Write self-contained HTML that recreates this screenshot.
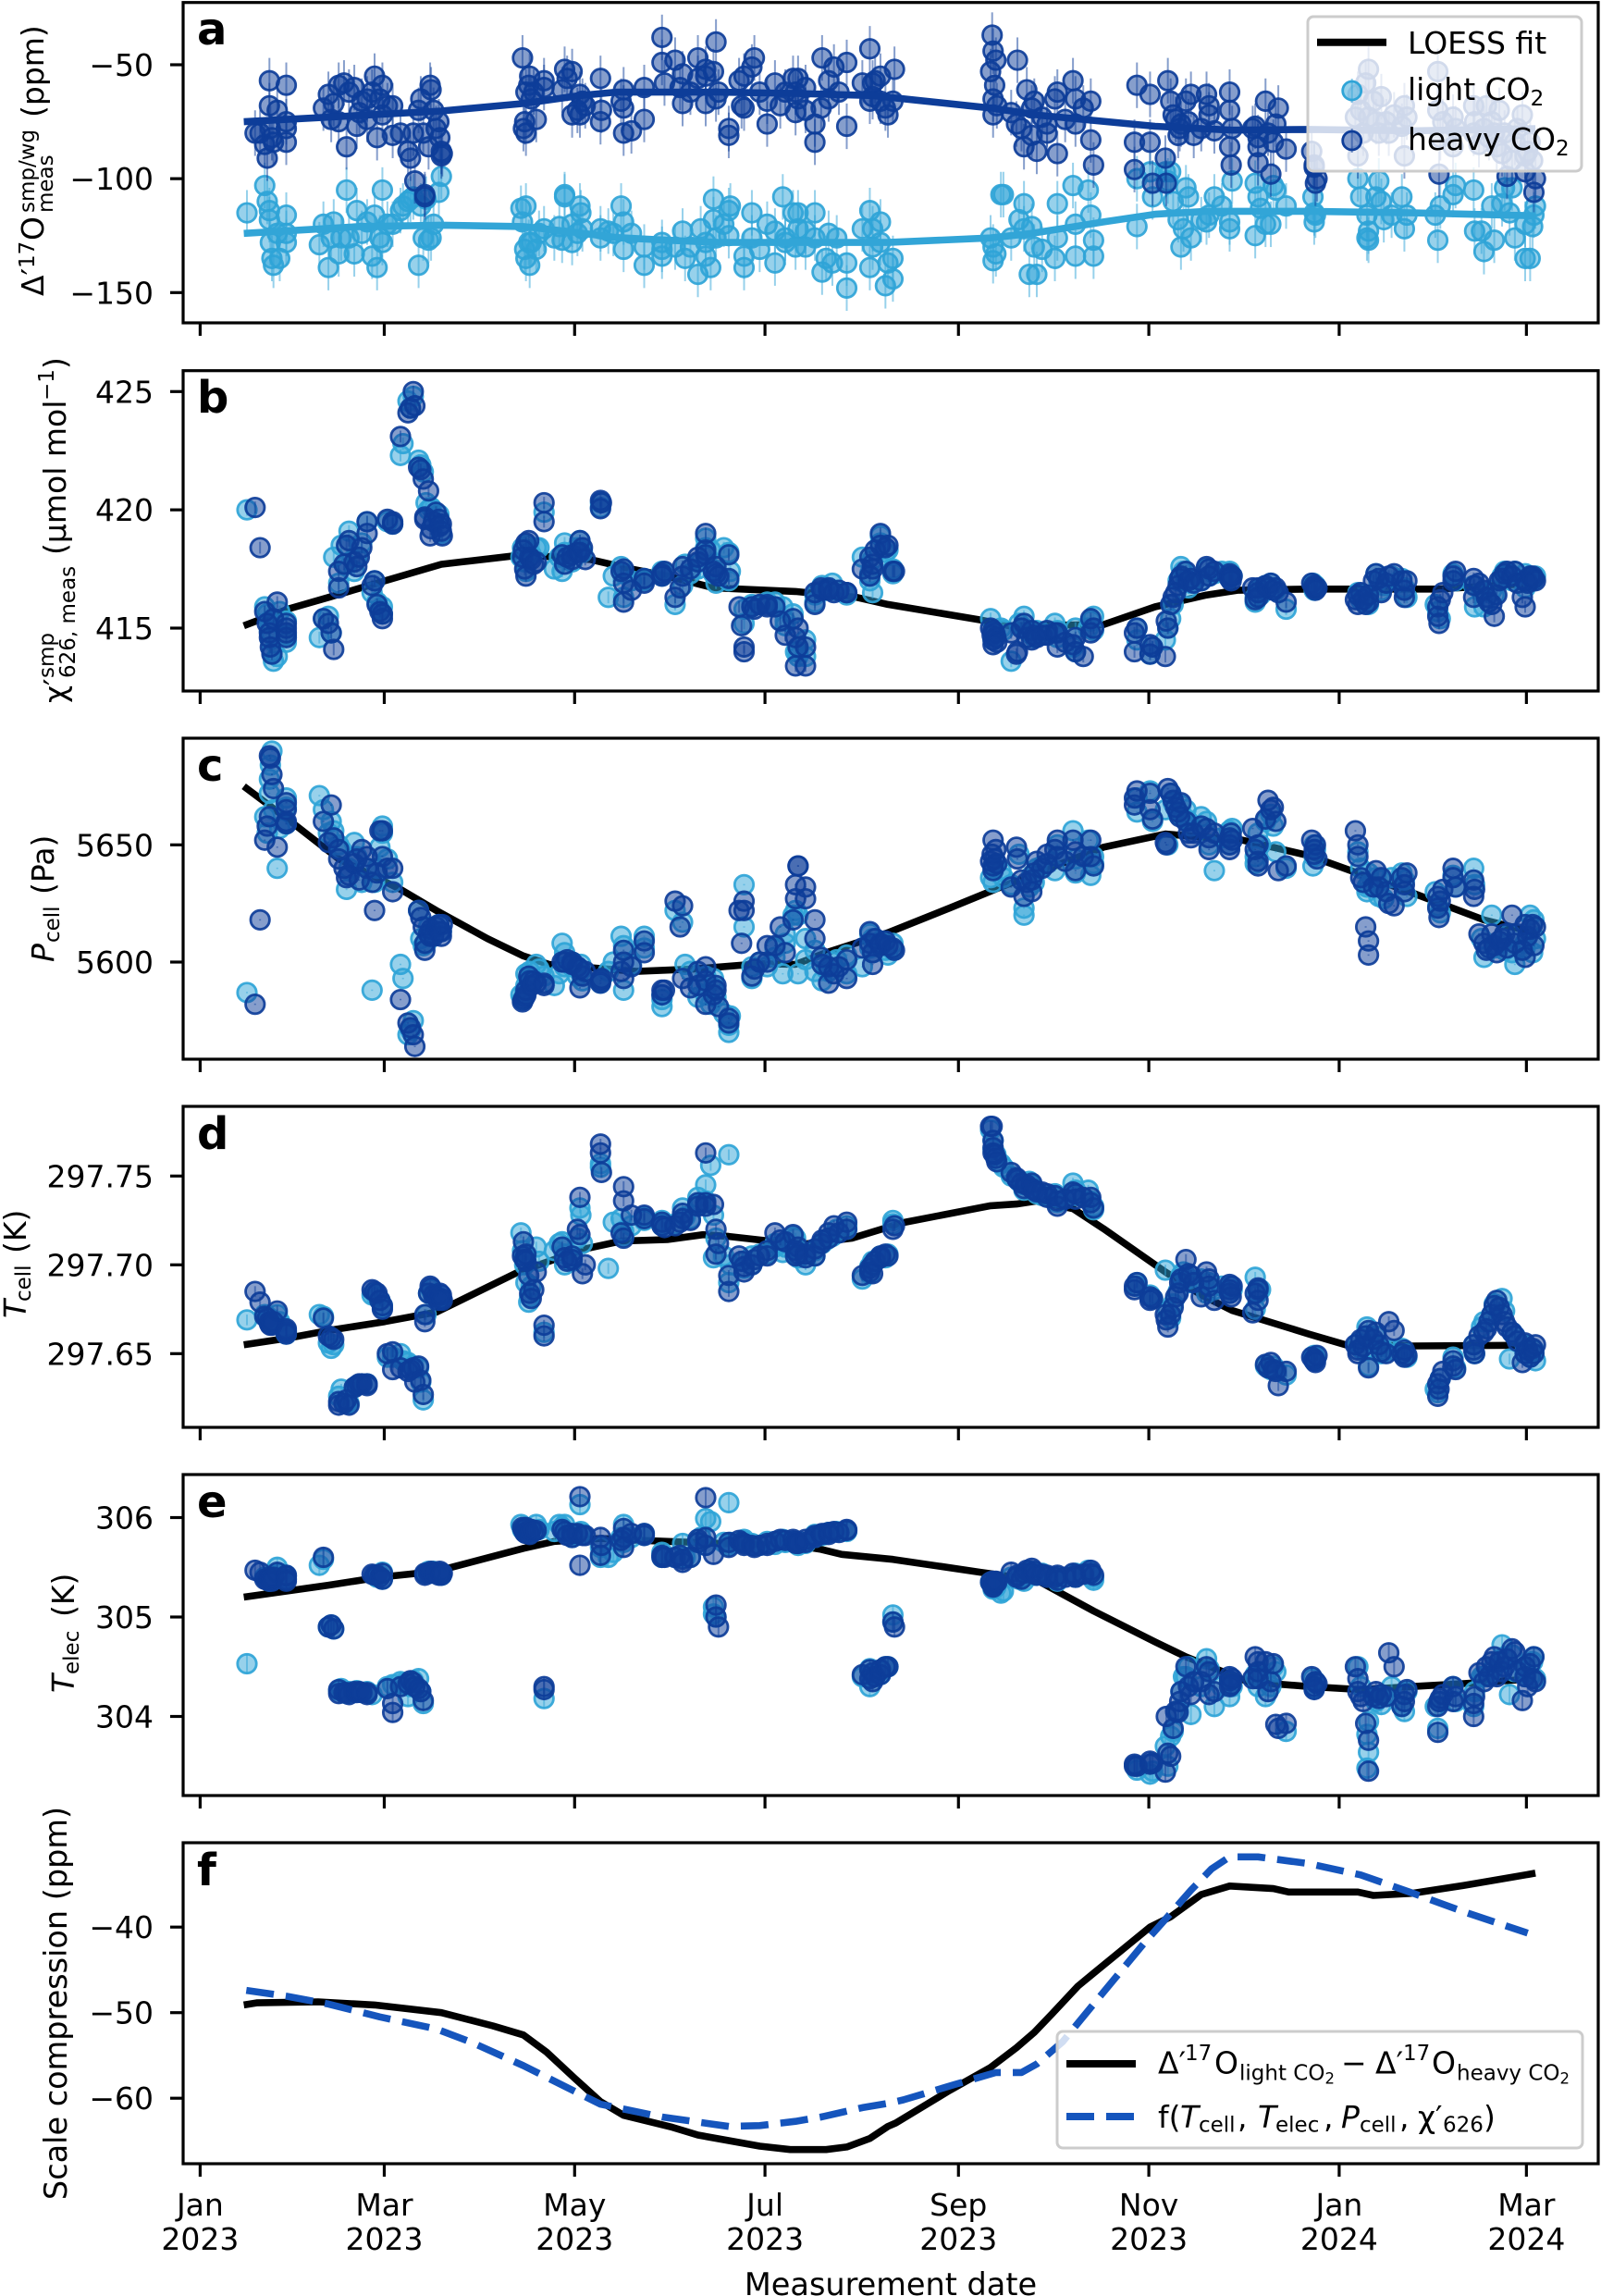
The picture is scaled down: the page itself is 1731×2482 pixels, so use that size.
<!DOCTYPE html>
<html lang="en">
<head>
<meta charset="utf-8">
<title>Measurement time series</title>
<style>
html,body{margin:0;padding:0;background:#fff;}
svg{display:block;}
text{font-family:"DejaVu Sans","Liberation Sans",sans-serif;fill:#000;font-size:33px;}
.s{font-size:23px;}
.t{font-size:16.5px;}
.i{font-style:italic;}
.p{font-size:48px;font-weight:bold;}
.title{font-size:33.5px;}
</style>
</head>
<body>
<svg id="chart" xmlns="http://www.w3.org/2000/svg" width="1731" height="2482" viewBox="0 0 1731 2482">
<rect x="0" y="0" width="1731" height="2482" fill="#fff"/>
<g id="plots"></g>

<g transform="translate(47,320) rotate(-90)">
<text x="0" y="0">Δ′</text><text class="s" x="30" y="-10">17</text><text x="60" y="0">O</text><text class="s" x="90" y="-10">smp/wg</text><text class="s" x="90" y="10">meas</text><text x="193" y="0">(ppm)</text>
</g>
<g transform="translate(71,760) rotate(-90)">
<text x="0" y="0">χ′</text><text class="s" x="27" y="-13">smp</text><text class="s" x="27" y="10">626, meas</text><text x="160" y="0">(μmol mol</text><text class="s" x="327" y="-13">−1</text><text x="361" y="0">)</text>
</g>
<g transform="translate(58,1040) rotate(-90)">
<text class="i" x="0" y="0">P</text><text class="s" x="21" y="6">cell</text><text x="73" y="0">(Pa)</text>
</g>
<g transform="translate(28,1425) rotate(-90)">
<text class="i" x="0" y="0">T</text><text class="s" x="18" y="5">cell</text><text x="70" y="0">(K)</text>
</g>
<g transform="translate(80,1830) rotate(-90)">
<text class="i" x="0" y="0">T</text><text class="s" x="20" y="5">elec</text><text x="82" y="0">(K)</text>
</g>
<text class="title" transform="translate(72,2165.5) rotate(-90)" text-anchor="middle">Scale compression (ppm)</text>
<text class="title" x="963" y="2481" text-anchor="middle">Measurement date</text>

<text class="p" x="213" y="48">a</text>
<text class="p" x="213" y="446">b</text>
<text class="p" x="213" y="844">c</text>
<text class="p" x="213" y="1242">d</text>
<text class="p" x="213" y="1640">e</text>
<text class="p" x="213" y="2038">f</text>

<g>
<rect x="1414" y="18" width="296" height="167" rx="6" fill="#fff" fill-opacity="0.8" stroke="#ccc" stroke-width="3"/>
<line x1="1424" y1="45.7" x2="1499" y2="45.7" stroke="#000" stroke-width="8"/>
<text x="1522" y="58">LOESS fit</text>
<line x1="1461.7" y1="85" x2="1461.7" y2="111" stroke="#2fa4d7" stroke-opacity="0.5" stroke-width="2"/>
<circle cx="1461.7" cy="98" r="10" fill="#2fa4d7" fill-opacity="0.5" stroke="#2fa4d7" stroke-width="2.8"/>
<text x="1522" y="108">light CO<tspan class="s" dy="6">2</tspan></text>
<line x1="1461.7" y1="139" x2="1461.7" y2="165" stroke="#0d3d99" stroke-opacity="0.5" stroke-width="2"/>
<circle cx="1461.7" cy="152" r="10" fill="#0d3d99" fill-opacity="0.5" stroke="#0d3d99" stroke-width="2.8"/>
<text x="1522" y="162">heavy CO<tspan class="s" dy="6">2</tspan></text>
</g>

<g>
<rect x="1143" y="2196" width="568" height="126" rx="6" fill="#fff" fill-opacity="0.8" stroke="#ccc" stroke-width="3"/>
<line x1="1153" y1="2231" x2="1228" y2="2231" stroke="#000" stroke-width="8"/>
<g>
<text x="1252" y="2241.7">Δ′</text><text class="s" x="1281" y="2227">17</text><text x="1313" y="2241.7">O</text><text class="s" x="1340" y="2248.3">light CO<tspan class="t" dy="4">2</tspan></text><text x="1450" y="2241.7">−</text><text x="1487" y="2241.7">Δ′</text><text class="s" x="1517" y="2227">17</text><text x="1548" y="2241.7">O</text><text class="s" x="1575" y="2248.3">heavy CO<tspan class="t" dy="4">2</tspan></text>
</g>
<line x1="1153" y1="2288" x2="1228" y2="2288" stroke="#1555bd" stroke-width="8" stroke-dasharray="30 13"/>
<g>
<text x="1252" y="2300">f(</text><text class="i" x="1276" y="2300">T</text><text class="s" x="1296" y="2304.3">cell</text><text x="1338" y="2300">,</text><text class="i" x="1360" y="2300">T</text><text class="s" x="1379" y="2304.3">elec</text><text x="1431" y="2300">,</text><text class="i" x="1450" y="2300">P</text><text class="s" x="1470" y="2304.3">cell</text><text x="1513" y="2300">,</text><text x="1533" y="2300">χ′</text><text class="s" x="1560" y="2304.3">626</text><text x="1604" y="2300">)</text>
</g>
</g>
</svg>

<script>
// ---------- axes data ----------
const xTickDays = [0,59,120,181,243,304,365,425];
const xTickMonths = ['Jan','Mar','May','Jul','Sep','Nov','Jan','Mar'];
const xTickYears = ['2023','2023','2023','2023','2023','2023','2024','2024'];
const aTicks = [-50,-100,-150];
const bTicks = [415,420,425];
const cTicks = [5600,5650];
const dTicks = [297.65,297.70,297.75];
const eTicks = [304,305,306];
const fTicks = [-40,-50,-60];

// ---------- measurement days since 1 Jan 2023 ----------
const heavyDays = [
17.6,19.2,20.7,21.5,22.2,22.2,22.5,23,23.5,24.7,27.6,27.6,27.6,27.6,
39.5,41.1,42,42.8,44.4,44.4,46.1,46.9,47.7,49.4,50.2,51,51.8,53.5,53.5,55.1,55.9,56.7,57.6,58.4,58.4,60,61.7,61.7,
64.2,66.6,67.4,68.3,68.8,70,70.7,71.5,72,72,73.2,73.7,74,74.8,75.6,76.5,76.8,77.3,77.3,77.6,
103.3,103.6,104,104.4,104.4,105.3,105.6,106.1,106.9,107.7,110.2,110.2,116,116.8,117.6,119.2,119.2,120.9,121.7,121.7,122.5,123.4,
128.3,128.3,128.6,134.9,135.7,135.7,135.7,138.2,142.3,142.3,148,148,148.8,
152.2,153.8,154.6,154.6,157.1,159.5,159.5,162,162,162,164.5,165.3,165.3,166.1,169.4,169.4,
172.7,173.5,174.3,174.3,176.8,177.6,179.3,181.7,181.7,184.2,185.9,187.5,190,190.8,190.8,191.6,
191.6,194,194,197,197,199,199.3,201.4,201.4,203.1,204.7,207.2,207.2,
212.2,214.6,214.6,215.5,215.5,216.3,218,218,219.6,220.4,222,222.5,
253.3,253.8,254.1,254.1,254.1,254.6,255,255.3,259.9,261.6,261.9,263.2,264,264.9,266.5,266.5,267.3,268.1,269.8,271.4,271.4,273.9,274.7,274.7,277.2,279.7,280.5,280.5,283,285.4,285.4,286.3,
299.4,299.4,300.2,304.4,304.4,305.2,309.3,309.6,310.1,311,311.8,312.6,313.4,313.9,314.3,315.9,316.7,317.5,318.4,320.8,322.5,323.3,323.3,325,329.9,329.9,329.9,330.4,330.7,337.3,338.1,339,339,339,341.4,342.2,343.1,343.9,344.7,345.5,348,
356.2,357,357,357.4,357.9,
370.2,371,371,371.9,372.7,373.5,374.4,374.4,376,376.8,377.7,378.5,380.1,380.9,382.6,385.1,385.9,385.9,386.7,
396.6,396.6,397,397.4,398.2,401.5,401.5,402.3,408.1,408.1,408.4,
409.8,411.4,412.2,413,413.9,414.7,415.5,416.3,417.2,418,418.8,420.4,421.3,422.1,423.7,424.6,424.6,425.4,426.2,427,427.4,427.9
];
const lightDays = [
15,20.7,21.5,22.2,22.2,22.5,23,23.5,24.7,25.5,27.6,27.6,27.6,
38.2,39.5,41.1,42,42.8,44.4,45.2,46.9,47.7,49.4,50.2,51.8,53.5,55.1,55.9,56.7,57.6,58.4,58.4,60,61.7,
64.2,65,66.6,67.4,68.3,70,70.7,71.5,72.4,73.2,74,74.8,76.5,77.3,
102.8,103.3,104,104.4,104.4,105.3,105.6,106.1,107.7,108.6,110.2,113.5,115.1,116,116.8,116.8,119.2,119.2,120.9,121.7,122,122.5,
128.3,128.3,130.8,132.4,134.9,135.7,135.7,138.2,142.3,142.3,148,148,148,
152.2,154.6,155.4,157.1,159.5,160.4,162,162,163.6,164.5,164.5,165.3,167.8,169.4,169.4,169.9,
174.3,174.3,176.8,176.8,179.3,181.7,184.2,184.2,186.7,187.5,187.5,190,190.8,191.6,
191.6,194,194,197,197,199.3,200.6,201.4,202.6,204,207.2,207.2,
212.2,214.6,214.6,215.5,215.5,218,218,219.6,220.4,222,222,
253.3,254.1,254.1,255,256.6,257.4,259.9,262.4,264,264,265.7,266.5,267.3,268.1,269.8,273.9,274.7,274.7,279.7,280.5,280.5,284.6,285.4,286.3,286.3,
300.2,300.2,304.4,305.2,309.3,310.1,311,311.8,313.4,314.3,315.1,315.9,316.7,317.5,320.8,322.5,323.3,325,327.4,329.9,330.7,329.9,338.1,338.1,339,339.8,341.4,343.1,343.9,344.7,348,
356.6,357,357,357.4,
371,371.9,373.9,374.4,374.4,373.9,376.8,377.7,378.5,379.3,381.8,385.1,385.9,386.7,
395.8,396.6,397.4,401.5,402.3,408.1,408.4,
410.6,411.4,413.9,414.7,417.2,418,419.6,420.4,421.3,424.6,424.6,426.2,427,427.4,427.9
];

// ---------- panel a ----------
const aHeavy = [
-80,-80,-85,-91,-57,-68,-78,-82,-84,-70,-59,-75,-84,-78,
-69,-63,-74,-67,-59,-75,-58,-86,-62,-60,-77,-71,-66,-65,-74,-62,-55,-82,-65,-59,-72,-68,-68,-81,
-80,-88,-91,-80,-101,-70,-65,-80,-107,-108,-86,-59,-61,-70,-78,-75,-82,-90,-88,-89,
-47,-78,-75,-62,-80,-59,-55,-65,-62,-74,-57,-60,-61,-52,-56,-53,-72,-70,-63,-72,-66,-68,
-56,-75,-70,-66,-61,-69,-80,-79,-60,-74,-38,-49,-58,
-48,-60,-54,-67,-62,-47,-56,-55,-52,-67,-53,-40,-65,-62,-78,-81,
-57,-68,-55,-69,-51,-47,-62,-76,-66,-58,-68,-62,-56,-71,-62,-65,
-56,-70,-60,-76,-84,-69,-47,-57,-65,-51,-62,-49,-77,
-58,-43,-66,-58,-64,-57,-66,-55,-69,-72,-66,-52,
-53,-37,-44,-65,-72,-59,-48,-68,-71,-76,-48,-78,-86,-61,-69,-81,-66,-88,-73,-76,-80,-65,-62,-89,-74,-57,-65,-76,-69,-66,-83,-94,
-84,-96,-59,-63,-84,-102,-91,-102,-57,-66,-72,-74,-81,-78,-76,-66,-75,-63,-81,-78,-63,-68,-72,-79,-62,-70,-86,-94,-78,-78,-77,-82,-86,-93,-66,-80,-98,-84,-76,-69,-87,
-88,-94,-95,-102,-100,
-73,-90,-63,-70,-80,-58,-52,-73,-66,-75,-80,-64,-75,-80,-72,-77,-68,-90,-73,
-53,-70,-98,-82,-75,-73,-86,-78,-68,-80,-75,
-85,-78,-68,-82,-75,-80,-86,-70,-89,-80,-99,-92,-84,-78,-72,-97,-90,-88,-84,-92,-106,-100
];
const aLight = [
-115,-103,-110,-114,-118,-128,-135,-138,-124,-135,-124,-128,-116,
-129,-120,-139,-126,-119,-133,-126,-105,-126,-133,-114,-124,-119,-134,-116,-139,-126,-105,-128,-120,-120,
-114,-112,-110,-109,-108,-138,-112,-126,-109,-127,-126,-120,-106,-99,
-113,-119,-131,-112,-135,-128,-138,-128,-131,-124,-122,-126,-121,-127,-107,-108,-128,-120,-124,-112,-115,-122,
-126,-122,-123,-124,-112,-119,-131,-124,-130,-138,-131,-134,-128,
-130,-123,-135,-130,-142,-122,-134,-128,-139,-118,-109,-126,-120,-114,-125,-112,
-134,-139,-115,-126,-131,-120,-137,-123,-108,-126,-128,-115,-130,-122,
-115,-123,-130,-115,-126,-141,-135,-124,-137,-126,-137,-148,
-122,-114,-139,-122,-130,-119,-128,-147,-137,-135,-144,
-126,-130,-136,-133,-107,-107,-126,-118,-111,-122,-142,-121,-130,-142,-131,-135,-111,-126,-103,-134,-120,-105,-116,-127,-134,
-100,-121,-97,-108,-97,-101,-97,-110,-118,-130,-122,-104,-108,-126,-118,-119,-116,-108,-112,-119,-101,-122,-102,-125,-108,-113,-120,-120,-103,-105,-112,
-108,-115,-119,-116,
-100,-108,-126,-127,-123,-116,-108,-101,-110,-118,-116,-108,-122,-116,
-116,-127,-112,-107,-103,-105,-123,
-123,-132,-112,-127,-111,-104,-115,-104,-126,-135,-120,-135,-121,-116,-112
];
const aHeavyLineDays = [14,77.3,103.6,121.7,133.2,166.1,190.75,215.5,253.3,269.8,306,330.7,355.4,388.3,427.9];
const aHeavyLineVals = [-75,-70.3,-67,-63.5,-62,-62,-62.6,-63.5,-69,-72.3,-77,-78.7,-78.4,-79,-78];
const aLightLineDays = [14,51,77.3,103.6,116.8,133.2,149.7,166.1,220.4,253.3,266.5,289.5,306,322.5,355.4,388.3,427.9];
const aLightLineVals = [-124,-121,-120.4,-121,-123,-125.8,-127,-128,-128,-126,-124,-119,-115.6,-114.3,-114.3,-115,-116.3];

// ---------- panel b ----------
const bHeavy = [
420.1,418.4,415.7,415.2,414.8,414.6,414.2,413.9,415.4,416.1,415.2,415,414.8,414.6,
415.4,415.2,414.8,414.1,416.7,417.4,417.7,418.5,418.7,417.8,417.6,418,418.4,419,419.5,416.8,417,416,415.7,415.4,415.6,419.6,419.4,419.5,
423.1,424.1,424.3,425,424.4,421.8,421.7,421.3,419.7,419.6,420.8,418.9,419.2,419.5,419.9,419.6,419.3,419.4,419.1,418.9,
418,418.3,417.5,417.2,418.6,418.7,418,417.9,417.7,417.8,420.3,419.5,418.1,417.7,418,418.1,417.9,418.2,418.7,418.2,418.4,417.9,
420.4,420.05,420.3,417.4,417.5,416.9,416.1,416.6,417.1,416.9,417.3,417.2,417.4,
416.3,416.7,417.6,417.2,417.5,417.8,418,419,418.3,418.1,417.4,417.3,417.6,417.2,418.1,417.1,
415.9,415.1,414.2,414,415.9,415.8,416,416,415.9,415.9,415.3,414.7,415.4,414.6,413.4,414.2,
415,414.2,413.4,416,416.5,416.7,416.6,416.7,416.6,416.5,416.6,416.5,416.5,
417.5,417.2,418,417.7,417.5,418.3,419,418.5,418.4,418.5,417.4,417.4,
415,414.7,414.9,414.5,414.3,414.8,414.6,414.4,414.8,413.9,414,415,415.2,414.6,414.9,414.5,414.7,414.6,414.7,414.9,414.7,414.8,414.2,414.8,414.4,414.3,414.6,414,413.8,415.4,414.8,415,
414.8,414,415,413.9,414.3,414.2,413.8,415.3,415,416,416.3,416.5,416.8,417.1,417.2,417.4,417,417.1,416.9,417,417.6,417.5,417.2,417.4,417.3,417.2,417.1,417,417.2,416.7,416.2,416.7,416.5,416.3,416.8,416.7,416.9,416.6,416.7,416.5,416.1,
416.9,416.7,416.8,416.6,416.7,
416.2,416.4,416,416.5,416.2,416,416.1,416.4,417,417.3,417.1,416.5,416.9,417.2,417.3,417,416.6,416.3,417,
415.9,415.5,415.2,416.2,416.5,417.2,417,417.4,417.1,416.3,416.8,
416.9,416.6,416.3,416.1,416,415.5,416.4,417,417.1,417.3,417.4,417.2,417.4,416.9,416.3,415.9,417,416.9,417.2,417.2,417.1,417
];
const bLight = [
420,415.9,415.6,415.3,414.9,414.5,414,413.6,413.8,415.7,415.3,414.7,414.4,
414.6,415.4,415.5,414.8,418,416.9,418.5,417.7,419.1,417.4,418,418.6,419.5,416.5,417,416.1,415.8,415.6,415.9,419.5,419.4,
422.3,422.8,424.6,424.3,424.8,422.1,421.9,421.6,420.3,420,420.1,419.5,419.8,419,
418,418.4,417.8,418.5,417.4,418,418.2,418.1,418.4,418.4,419.9,417.5,418,417.4,418.6,418.2,418.1,417.8,418.4,418.7,418.3,418.2,
420.3,420.1,416.3,417.2,417.6,417.3,416.3,417,417.1,417,417.4,417.3,417.2,
416,416.8,417.7,417.3,417.5,417.8,418.4,418.8,418.3,417.5,417.3,416.9,418.4,418.2,417,417.4,
415.8,415.2,415.9,416,416,416.1,415.9,416.1,415.9,415.3,415.1,415.6,414,413.8,
414,413.8,414.5,416.1,416.4,416.8,416.6,416.7,416.9,416.6,416.4,416.5,
418,417.3,417,417.9,416.5,418.6,418.9,418.2,418.3,417.3,417.5,
415.4,414.8,414.5,414.7,415,414.9,413.6,415.2,415.5,415,414.8,414.9,414.6,414.9,414.8,415.2,414.6,414.9,414.2,415,414,415,415.3,415.5,414.9,
415,414.5,413.9,414.2,414.5,415,415.4,416,417,417.6,417.4,417,416.7,416.9,417,417.5,417.2,417.3,417.4,417.4,417.2,417.1,416.3,416.1,416.6,416.4,416.8,416.9,416.7,416.6,415.8,
416.9,416.6,416.7,416.8,
416.5,416.2,416.3,416,416.2,416.4,417.3,417,416.6,416.8,417.2,417.1,416.7,416.3,
416,415.7,415.4,417.3,417,416.8,415.9,
416.5,415.9,416.6,416.4,417.2,417.4,417.3,417,417.4,416.7,417.3,417.2,417,417.1,417.2
];
const bLineDays = [14,28,41.1,59.2,77.3,83.9,103.6,125,138.2,149.7,164.5,190.75,210.5,220.4,250,259.1,289.5,306,322.5,332.4,355.4,396.6,427.9];
const bLineVals = [415.1,415.8,416.3,417,417.7,417.8,418.1,417.9,417.5,417.2,416.7,416.55,416.3,416,415.35,415.1,415.15,415.9,416.4,416.6,416.65,416.65,416.9];

// ---------- panel c ----------
const cHeavy = [
5582,5618,5652,5658,5662,5688,5687,5680,5674,5649,5668,5665,5660,5659,
5660,5651,5667,5653,5644,5648,5640,5636,5637,5642,5644,5635,5648,5645,5640,5634,5622,5638,5656,5656,5645,5640,5640,5630,
5584,5574,5572,5569,5564,5622,5619,5615,5605,5608,5612,5611,5614,5611,5615,5616,5613,5611,5613,5616,
5583,5584,5585,5586,5588,5594,5592,5590,5592,5591,5591,5590,5600,5600,5601,5599,5600,5598,5597,5589,5594,5596,
5592,5591,5593,5596,5600,5605,5593,5598,5609,5604,5588,5586,5588,
5626,5615,5624,5593,5589,5590,5596,5592,5582,5598,5586,5590,5588,5581,5576,5574,
5622,5608,5626,5622,5594,5597,5600,5600,5607,5607,5615,5604,5618,5627,5633,5641,
5641,5632,5627,5618,5610,5602,5599,5591,5598,5595,5598,5601,5593,
5606,5608,5613,5604,5599,5610,5608,5607,5609,5607,5606,5605,
5643,5646,5652,5639,5641,5644,5648,5642,5632,5649,5644,5635,5628,5634,5635,5630,5638,5643,5640,5642,5646,5648,5652,5645,5643,5652,5639,5647,5645,5652,5645,5641,
5667,5670,5673,5672,5665,5661,5651,5650,5674,5672,5669,5666,5664,5662,5668,5660,5655,5653,5655,5658,5657,5648,5653,5655,5653,5650,5648,5655,5652,5657,5648,5643,5650,5641,5661,5669,5665,5666,5660,5639,5641,
5652,5648,5646,5650,5644,
5656,5650,5645,5636,5634,5615,5609,5603,5632,5639,5632,5636,5630,5625,5624,5636,5633,5630,5638,
5628,5623,5619,5626,5631,5640,5636,5632,5635,5628,5631,
5612,5608,5605,5606,5612,5607,5604,5609,5610,5612,5606,5620,5608,5612,5605,5616,5602,5611,5614,5616,5607,5615
];
const cLight = [
5587,5662,5655,5672,5678,5684,5690,5665,5640,5657,5670,5666,5659,
5671,5665,5655,5660,5656,5650,5648,5631,5640,5651,5645,5634,5640,5588,5634,5640,5649,5658,5655,5644,5634,
5599,5593,5569,5571,5575,5622,5610,5607,5608,5615,5611,5612,5616,5613,
5586,5584,5587,5590,5595,5593,5596,5592,5599,5597,5594,5590,5595,5608,5604,5598,5598,5600,5594,5596,5599,5592,
5591,5592,5596,5600,5611,5607,5588,5599,5611,5606,5581,5584,5586,
5622,5617,5599,5596,5585,5590,5594,5586,5582,5593,5589,5585,5578,5570,5573,5577,
5633,5615,5598,5593,5600,5598,5602,5606,5595,5608,5612,5620,5622,5595,
5620,5610,5601,5605,5596,5592,5597,5596,5600,5601,5595,5603,
5598,5606,5612,5604,5610,5607,5609,5605,5603,5605,5608,
5636,5640,5634,5642,5639,5636,5633,5646,5620,5623,5632,5637,5634,5640,5641,5639,5650,5645,5656,5644,5638,5652,5637,5645,5642,
5664,5670,5673,5660,5665,5650,5672,5668,5663,5667,5662,5665,5660,5658,5662,5660,5650,5639,5653,5656,5657,5650,5645,5642,5655,5650,5660,5663,5658,5647,5640,
5641,5645,5650,5648,
5647,5640,5632,5638,5633,5630,5636,5628,5635,5627,5636,5638,5635,5628,
5630,5624,5621,5637,5632,5640,5633,
5610,5602,5620,5606,5608,5605,5612,5604,5599,5608,5606,5620,5604,5618,5610
];
const cLineDays = [14,28,44.4,64.2,75.7,92.1,103.6,111.8,139.8,157.9,179.3,190.75,200.6,220.4,240.1,256.6,289.5,309.3,334,355.4,371.9,388.3,411.4,427.9];
const cLineVals = [5675,5661,5644,5631,5622,5610,5602.6,5599,5596,5597,5599.3,5599,5604,5612.5,5623,5632,5649,5654.6,5652,5645.4,5637.5,5629.6,5618,5612.5];

// ---------- panel d ----------
const dHeavy = [
297.685,297.679,297.671,297.670,297.668,297.667,297.666,297.666,297.668,297.674,297.664,297.662,297.661,297.663,
297.670,297.660,297.659,297.658,297.623,297.621,297.622,297.624,297.621,297.631,297.632,297.633,297.633,297.633,297.632,297.686,297.685,297.684,297.680,297.675,297.677,297.650,297.651,297.641,
297.642,297.640,297.641,297.642,297.634,297.643,297.635,297.627,297.672,297.668,297.684,297.688,297.687,297.683,297.682,297.680,297.684,297.681,297.683,297.680,
297.705,297.713,297.703,297.702,297.706,297.694,297.684,297.681,297.686,297.696,297.666,297.660,297.710,297.704,297.702,297.705,297.703,297.720,297.738,297.717,297.695,297.700,
297.768,297.763,297.752,297.718,297.744,297.736,297.715,297.728,297.728,297.726,297.724,297.722,297.721,
297.722,297.724,297.729,297.726,297.725,297.733,297.735,297.763,297.735,297.733,297.734,297.720,297.706,297.712,297.685,297.694,
297.705,297.702,297.699,297.696,297.700,297.703,297.705,297.708,297.705,297.718,297.714,297.713,297.717,297.705,297.708,297.710,
297.706,297.704,297.706,297.705,297.709,297.712,297.714,297.715,297.718,297.722,297.718,297.724,297.720,
297.694,297.696,297.698,297.700,297.695,297.702,297.704,297.705,297.706,297.705,297.720,297.722,
297.778,297.778,297.770,297.766,297.763,297.762,297.760,297.758,297.752,297.749,297.748,297.746,297.743,297.745,297.746,297.743,297.742,297.741,297.741,297.740,297.738,297.739,297.736,297.733,297.737,297.741,297.740,297.737,297.738,297.738,297.735,297.732,
297.688,297.686,297.690,297.682,297.680,297.681,297.672,297.669,297.665,297.672,297.676,297.682,297.684,297.690,297.692,297.703,297.695,297.694,297.690,297.682,297.696,297.692,297.688,297.680,297.689,297.686,297.684,297.682,297.688,297.673,297.684,297.686,297.687,297.680,297.644,297.642,297.645,297.641,297.640,297.632,297.640,
297.648,297.646,297.647,297.645,297.649,
297.655,297.652,297.650,297.658,297.654,297.660,297.663,297.642,297.658,297.662,297.655,297.651,297.650,297.668,297.663,297.650,297.648,297.652,297.649,
297.626,297.633,297.630,297.636,297.640,297.646,297.643,297.641,297.652,297.655,297.650,
297.660,297.662,297.664,297.668,297.672,297.677,297.680,297.676,297.672,297.668,297.665,297.662,297.660,297.657,297.645,297.656,297.650,297.652,297.648,297.653,297.650,297.655
];
const dLight = [
297.669,297.672,297.671,297.670,297.669,297.668,297.667,297.667,297.672,297.668,297.663,297.661,297.662,
297.672,297.671,297.656,297.653,297.655,297.626,297.630,297.622,297.622,297.631,297.632,297.633,297.633,297.683,297.684,297.682,297.680,297.676,297.677,297.648,297.648,
297.650,297.646,297.645,297.641,297.643,297.642,297.634,297.624,297.672,297.684,297.686,297.684,297.682,297.681,
297.718,297.708,297.700,297.690,297.705,297.679,297.682,297.688,297.710,297.702,297.662,297.708,297.712,297.713,297.700,297.706,297.705,297.702,297.715,297.732,297.728,297.712,
297.757,297.755,297.698,297.724,297.726,297.719,297.716,297.722,297.727,297.725,297.725,297.723,297.722,
297.723,297.732,297.727,297.726,297.738,297.735,297.745,297.736,297.756,297.728,297.704,297.715,297.705,297.762,297.690,297.700,
297.702,297.698,297.700,297.705,297.706,297.706,297.710,297.712,297.707,297.712,297.710,297.716,297.715,297.704,
297.708,297.700,297.706,297.705,297.708,297.712,297.714,297.715,297.716,297.720,297.720,297.722,
297.692,297.695,297.699,297.700,297.702,297.704,297.705,297.704,297.706,297.723,297.725,
297.776,297.770,297.765,297.762,297.757,297.755,297.750,297.747,297.745,297.742,297.747,297.745,297.742,297.740,297.739,297.740,297.735,297.738,297.746,297.742,297.739,297.742,297.736,297.733,297.731,
297.690,297.688,297.683,297.681,297.697,297.674,297.670,297.678,297.685,297.694,297.696,297.694,297.692,297.690,297.692,297.684,297.690,297.686,297.688,297.688,297.686,297.684,297.693,297.675,297.684,297.686,297.643,297.641,297.643,297.641,297.638,
297.648,297.646,297.649,297.647,
297.656,297.653,297.652,297.660,297.643,297.665,297.660,297.654,297.650,297.652,297.652,297.653,297.650,297.648,
297.630,297.628,297.636,297.648,297.642,297.655,297.650,
297.665,297.668,297.672,297.678,297.681,297.674,297.647,297.662,297.660,297.650,297.655,297.648,297.650,297.652,297.646
];
const dLineDays = [14,28,41.1,59.2,75.7,83.9,102,113.5,123.4,134.9,149.7,161.2,169.4,182.6,193.2,208.9,225.3,253.3,261.6,268.1,279.7,289.5,309.3,320.8,330.7,355.4,367,388.3,421.3,427.9];
const dLineVals = [297.655,297.6587,297.663,297.668,297.6734,297.6804,297.696,297.703,297.709,297.7134,297.7142,297.717,297.716,297.7134,297.7116,297.715,297.7238,297.7333,297.7342,297.736,297.7316,297.7203,297.696,297.683,297.6743,297.661,297.655,297.6543,297.6547,297.6547];

// ---------- panel e ----------
const eHeavy = [
305.47,305.45,305.38,305.37,305.36,305.4,305.38,305.36,305.4,305.45,305.42,305.38,305.41,305.36,
305.6,304.9,304.92,304.88,304.27,304.23,304.24,304.24,304.22,304.25,304.24,304.25,304.24,304.24,304.22,305.43,305.42,305.42,305.4,305.38,305.44,304.28,304.04,304.13,
304.3,304.33,304.36,304.34,304.3,304.28,304.25,304.16,305.44,305.42,305.44,305.44,305.46,305.44,305.44,305.42,305.46,305.44,305.42,305.44,
305.9,305.88,305.85,305.9,305.84,305.86,305.83,305.88,305.86,305.87,304.3,304.27,305.88,305.86,305.82,305.84,305.8,305.84,306.21,305.52,305.82,305.82,
305.8,305.62,305.72,305.77,305.89,305.8,305.7,305.84,305.84,305.82,305.62,305.6,305.6,
305.6,305.62,305.58,305.55,305.6,305.78,305.75,306.2,305.8,305.72,305.63,305.12,305,304.9,305.75,305.7,
305.77,305.75,305.74,305.72,305.72,305.7,305.72,305.72,305.74,305.76,305.78,305.77,305.78,305.74,305.76,305.74,
305.74,305.75,305.78,305.82,305.8,305.83,305.84,305.85,305.83,305.86,305.85,305.88,305.87,
304.42,304.47,304.38,304.44,304.35,304.4,304.47,304.42,304.5,304.5,304.95,304.9,
305.35,305.36,305.33,305.3,305.31,305.33,305.36,305.35,305.45,305.4,305.42,305.38,305.44,305.47,305.49,305.44,305.46,305.42,305.43,305.4,305.42,305.4,305.37,305.42,305.4,305.44,305.42,305.4,305.43,305.47,305.44,305.42,
303.52,303.5,303.5,303.52,303.55,303.53,303.44,304,303.63,303.6,303.88,304.05,304.04,304.15,304.25,304.5,304.3,304.22,304.35,304.35,304.5,304.45,304.22,304.25,304.4,304.36,304.3,304.32,304.38,304.38,304.6,304.55,304.45,304.38,304.55,304.25,304.35,304.53,303.92,303.88,303.93,
304.4,304.3,304.27,304.35,304.33,
304.5,304.38,304.25,304.2,304.15,303.93,303.76,303.45,304.2,304.25,304.18,304.22,304.2,304.64,304.5,304.1,304.22,304.15,304.27,
303.84,304.1,304.15,304.18,304.22,304.3,304.15,304.2,304.13,304,304.2,
304.44,304.35,304.5,304.4,304.55,304.6,304.4,304.55,304.45,304.5,304.58,304.68,304.65,304.45,304.16,304.4,304.5,304.3,304.53,304.38,304.6,304.35
];
const eLight = [
304.53,305.4,305.38,305.36,305.37,305.4,305.42,305.38,305.5,305.44,305.42,305.38,305.4,
305.52,305.58,304.9,304.92,304.88,304.26,304.28,304.23,304.25,304.24,304.26,304.24,304.25,304.22,305.42,305.4,305.42,305.38,305.45,304.3,304.32,
304.35,304.33,304.2,304.3,304.36,304.38,304.25,304.13,305.44,305.46,305.44,305.46,305.44,305.42,
305.93,305.88,305.87,305.9,305.85,305.86,305.84,305.88,305.93,305.88,304.18,305.86,305.93,305.9,305.93,305.85,305.84,305.8,305.82,306.13,305.86,305.84,
305.7,305.6,305.6,305.65,305.8,305.93,305.75,305.8,305.84,305.82,305.62,305.6,305.65,
305.6,305.74,305.6,305.6,305.75,305.8,305.99,305.72,305.96,305.03,305.1,305,305.75,306.15,305.72,305.75,
305.78,305.76,305.74,305.72,305.72,305.76,305.73,305.76,305.78,305.76,305.75,305.76,305.76,305.72,
305.76,305.74,305.75,305.8,305.83,305.82,305.84,305.85,305.85,305.86,305.86,305.87,
304.4,304.48,304.3,304.42,304.4,304.46,304.42,304.5,304.5,305.02,304.95,
305.35,305.32,305.28,305.3,305.24,305.26,305.4,305.38,305.4,305.36,305.46,305.46,305.42,305.42,305.44,305.4,305.4,305.36,305.42,305.44,305.4,305.47,305.44,305.4,305.37,
303.5,303.46,303.42,303.45,303.7,303.5,303.8,303.85,304.06,304.25,304.4,304.4,304.5,304.02,304.3,304.58,304.48,304.1,304.3,304.36,304.3,304.2,304.4,304.42,304.3,304.45,304.2,304.3,304.5,304.45,303.85,
304.38,304.3,304.28,304.35,
304.5,304.3,303.82,303.95,303.64,303.48,304.15,304.2,304.12,304.2,304.3,304.1,304.05,304.25,
304.1,303.88,304.15,304.3,304.15,304.1,304.25,
304.4,304.4,304.45,304.5,304.72,304.6,304.22,304.62,304.45,304.5,304.4,304.4,304.55,304.6,304.38
];
const eLineDays = [14,41.1,57.6,75.7,103.6,113.5,128.3,141.4,166.1,190.75,199,205.6,222,250,268.1,286.3,306,315.9,335.7,355.4,371.9,388.3,404.8,427.9];
const eLineVals = [305.2,305.32,305.4,305.46,305.69,305.76,305.79,305.77,305.74,305.72,305.68,305.63,305.58,305.45,305.37,305.06,304.75,304.6,304.35,304.3,304.27,304.3,304.33,304.38];

// ---------- panel f ----------
const fDiffDays = [14,18.1,37.8,55.9,77.3,93.8,103.6,111,120.1,128.3,135.7,151.3,159.5,179.3,189.1,200.6,207.2,214.6,220.4,222.9,240.1,253.3,261.6,267.3,273.1,281.3,286.3,304.4,311,320.8,329.9,343.9,348.8,371,376,388.3,404.8,427.9];
const fDiffVals = [-49.1,-48.85,-48.74,-49.1,-50,-51.55,-52.6,-54.6,-57.7,-60.4,-62,-63.4,-64.3,-65.6,-66,-66,-65.7,-64.7,-63.3,-62.9,-59.1,-56.4,-54.1,-52.3,-50.1,-46.9,-45.4,-40,-38.8,-36.2,-35.2,-35.5,-35.9,-35.9,-36.3,-36.05,-35.15,-33.7];
const fModelDays = [14.8,28,41.1,57.6,75.7,87.2,103.6,121.7,128.3,148,169.4,179.3,190.75,199,212.2,220.4,225.3,241.8,255,263.2,268.1,276.4,286.3,302.7,311,317.5,324.1,329.9,339,355.4,371.9,388.3,404.8,425.4];
const fModelVals = [-47.4,-48.1,-49,-50.5,-51.9,-53.5,-56.2,-59.5,-60.7,-62.2,-63.3,-63.2,-62.7,-62.2,-61.1,-60.6,-60.2,-58.4,-57,-57,-56,-53.4,-49,-41.8,-38.4,-35.7,-33.2,-31.8,-31.8,-32.6,-33.9,-36,-38.2,-40.7];

// ---------- drawing ----------
const NS = 'http://www.w3.org/2000/svg';
const plots = document.getElementById('plots');
const LIGHT = '#2fa4d7';
const HEAVY = '#0d3d99';
const AX_LEFT = 198, AX_RIGHT = 1728;

function xScale(day){ return 216.4 + 3.374 * day; }
function yScaleFor(v0, y0, k){ return function(v){ return y0 + (v - v0) * k; }; }

function make(tag, parent, props){
  const node = document.createElementNS(NS, tag);
  for (const key in props) node.setAttribute(key, props[key]);
  parent.appendChild(node);
  return node;
}

function drawPoints(group, days, vals, y, color, err, seriesName){
  for (let i = 0; i < vals.length; i++){
    if (days[i] === undefined) continue;
    const cx = xScale(days[i]);
    const bar = make('line', group, {x1:cx, x2:cx, y1:y(vals[i] + err), y2:y(vals[i] - err), stroke:color, 'stroke-opacity':0.5, 'stroke-width':2});
    
    
    const dot = make('circle', group, {cx:cx, cy:y(vals[i]), r:10.2, fill:color, 'fill-opacity':0.5, stroke:color, 'stroke-opacity':0.92, 'stroke-width':2.8});
    
    
  }
}

function drawLine(group, days, vals, y, color, name, dash){
  let d = '';
  for (let i = 0; i < vals.length; i++){
    d += (i ? 'L' : 'M') + xScale(days[i]).toFixed(1) + ' ' + y(vals[i]).toFixed(1);
  }
  const path = make('path', group, {d:d, fill:'none', stroke:color, 'stroke-width':7.6, 'stroke-linejoin':'round'});
  if (dash) path.setAttribute('stroke-dasharray', dash);
  
  
}

function drawFrame(group, top, bottom, y, yTicks, digits, showXLabels, key){
  const box = make('rect', group, {x:AX_LEFT, y:top, width:AX_RIGHT - AX_LEFT, height:bottom - top, fill:'none', stroke:'#000', 'stroke-width':3.2});
  
  
  yTicks.forEach(function(v){
    const tick = make('line', group, {x1:AX_LEFT - 14, x2:AX_LEFT, y1:y(v), y2:y(v), stroke:'#000', 'stroke-width':3.2});
    
    
    const label = make('text', group, {x:AX_LEFT - 32, y:y(v) + 12, 'text-anchor':'end'});
    label.textContent = v.toFixed(digits).replace('-', '\u2212');
    
    
  });
  xTickDays.forEach(function(day, i){
    const tx = xScale(day);
    const tick = make('line', group, {x1:tx, x2:tx, y1:bottom, y2:bottom + 14, stroke:'#000', 'stroke-width':3.2});
    
    
    if (showXLabels){
      const month = make('text', group, {x:tx, y:2395, 'text-anchor':'middle'});
      month.textContent = xTickMonths[i];
      
      
      const year = make('text', group, {x:tx, y:2432, 'text-anchor':'middle'});
      year.textContent = xTickYears[i];
      
      
    }
  });
}

function newPanelGroup(key){
  const g = make('g', plots, {});
  
  
  return g;
}

// panel a: coloured fits are drawn above the points
(function(){
  const g = newPanelGroup('a');
  const y = yScaleFor(-50, 70, -2.463);
  drawPoints(g, lightDays, aLight, y, LIGHT, 10, 'light-co2');
  drawPoints(g, heavyDays, aHeavy, y, HEAVY, 10, 'heavy-co2');
  drawLine(g, aLightLineDays, aLightLineVals, y, '#32a5d7', 'loess-light-co2');
  drawLine(g, aHeavyLineDays, aHeavyLineVals, y, HEAVY, 'loess-heavy-co2');
  drawFrame(g, 2.7, 349, y, aTicks, 0, false, 'a');
})();

// panels b to e: black fit beneath the points
function standardPanel(key, top, bottom, y, ticks, digits, lineDays, lineVals, light, heavy, err){
  const g = newPanelGroup(key);
  drawLine(g, lineDays, lineVals, y, '#000', 'loess-fit-' + key);
  drawPoints(g, lightDays, light, y, LIGHT, err, 'light-co2');
  drawPoints(g, heavyDays, heavy, y, HEAVY, err, 'heavy-co2');
  drawFrame(g, top, bottom, y, ticks, digits, false, key);
}
standardPanel('b', 400.7, 747, yScaleFor(415, 679, -25.57), bTicks, 0, bLineDays, bLineVals, bLight, bHeavy, 0.25);
standardPanel('c', 798, 1145, yScaleFor(5600, 1040, -2.534), cTicks, 0, cLineDays, cLineVals, cLight, cHeavy, 0.3);
standardPanel('d', 1196, 1543, yScaleFor(297.70, 1367.3, -1920), dTicks, 2, dLineDays, dLineVals, dLight, dHeavy, 0.003);
standardPanel('e', 1594, 1941, yScaleFor(305, 1748, -107.5), eTicks, 0, eLineDays, eLineVals, eLight, eHeavy, 0.1);

// panel f
(function(){
  const g = newPanelGroup('f');
  const y = yScaleFor(-50, 2175.7, -9.25);
  drawLine(g, fDiffDays, fDiffVals, y, '#000', 'difference-line');
  drawLine(g, fModelDays, fModelVals, y, '#1555bd', 'model-line', '30 13');
  drawFrame(g, 1992, 2339, y, fTicks, 0, true, 'f');
})();
</script>
</body>
</html>
